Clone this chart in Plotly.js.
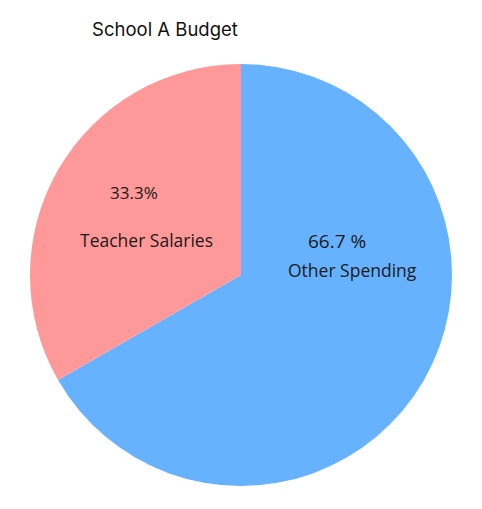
<!DOCTYPE html>
<html>
<head>
<meta charset="utf-8">
<script src="https://cdn.plot.ly/plotly-3.0.1.min.js"></script>
<style>
  html, body { margin: 0; padding: 0; background: #fff; }
  #chart { width: 482px; height: 509px; }
</style>
</head>
<body>
<div id="chart"></div>
<script>
  // budget shares
  let categories = ['Other Spending', 'Teacher Salaries'];
  let shares = [66.7, 33.3];
  let pctLabels = ['66.7 %', '33.3%'];
  let colors = ['#66B2FF', '#FF9999'];

  const W = 482, H = 509;
  // label spots in pixels, as in the picture
  let pctPos = [[337, 241], [134, 192]];
  let namePos = [[352, 270], [146, 240]];

  let annotations = [];
  categories.forEach((c, i) => {
    annotations.push({
      text: pctLabels[i], xref: 'paper', yref: 'paper',
      x: pctPos[i][0] / W, y: 1 - pctPos[i][1] / H,
      showarrow: false, xanchor: 'center', yanchor: 'middle',
      font: { family: 'Open Sans, sans-serif', size: i === 0 ? 19 : 17, color: '#1a1a1a' }
    });
    annotations.push({
      text: c, xref: 'paper', yref: 'paper',
      x: namePos[i][0] / W, y: 1 - namePos[i][1] / H,
      showarrow: false, xanchor: 'center', yanchor: 'middle',
      font: { family: 'Open Sans, sans-serif', size: 17.5, color: '#1a1a1a' }
    });
  });

  Plotly.newPlot('chart', [{
    type: 'pie',
    labels: categories,
    values: shares,
    sort: false,
    direction: 'clockwise',
    rotation: 0,
    textinfo: 'none',
    hoverinfo: 'label+percent',
    marker: { colors: colors, line: { width: 0 } },
    domain: { x: [30 / W, 452 / W], y: [1 - 486 / H, 1 - 64 / H] }
  }], {
    width: W, height: H,
    margin: { l: 0, r: 0, t: 0, b: 0 },
    paper_bgcolor: '#fff',
    showlegend: false,
    title: {
      text: 'School A Budget',
      x: 165 / W, xanchor: 'center',
      y: 1 - 30 / H, yanchor: 'middle',
      font: { family: 'Inter, sans-serif', size: 18.5, color: '#111' }
    },
    annotations: annotations
  }, { displayModeBar: false, staticPlot: true });
</script>
</body>
</html>
